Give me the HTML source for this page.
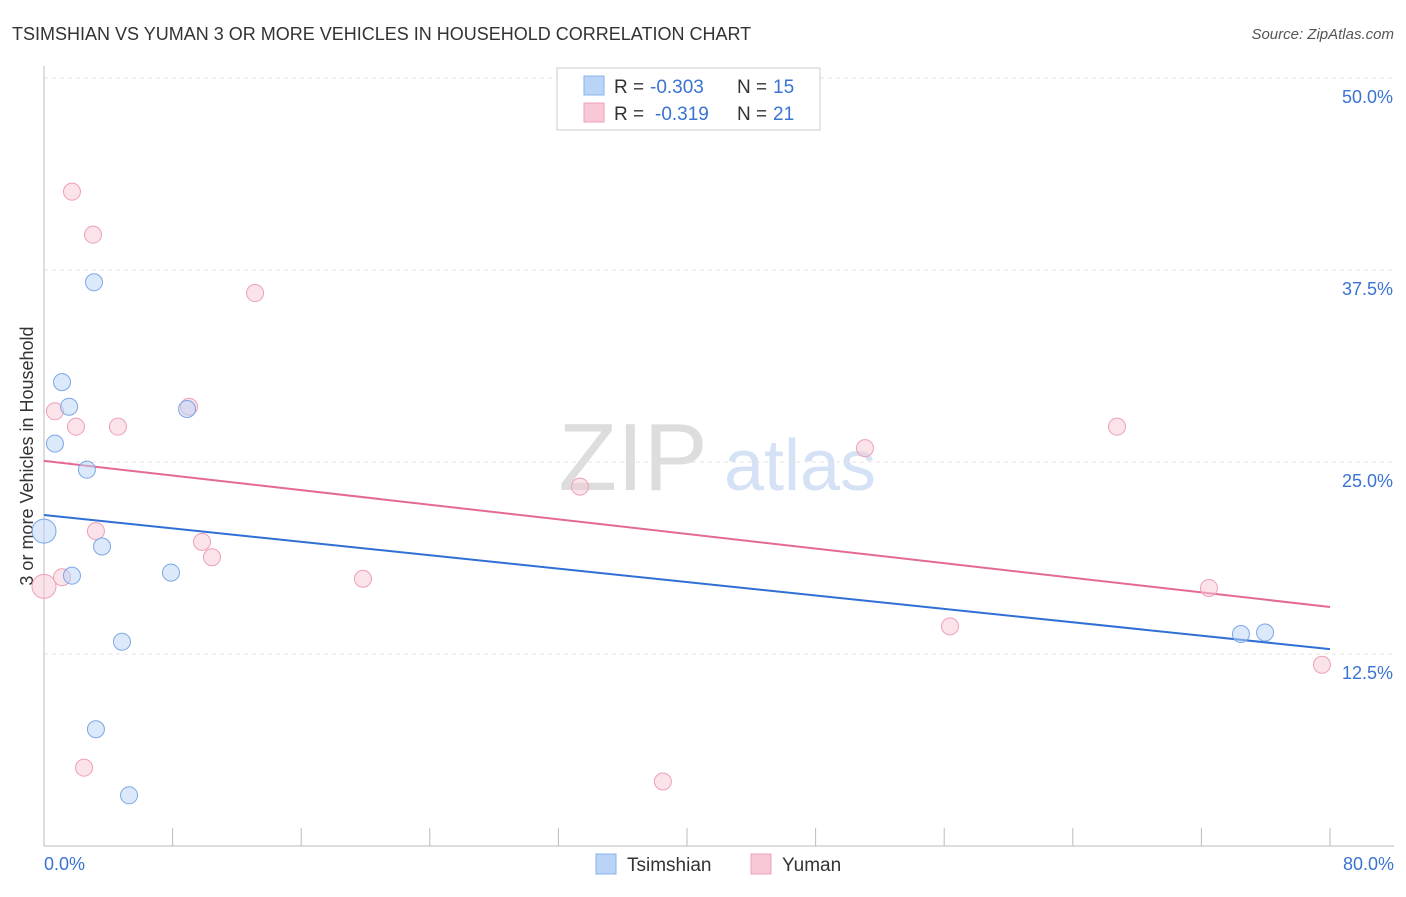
<!DOCTYPE html>
<html><head><meta charset="utf-8"><style>
body{margin:0;background:#fff;font-family:"Liberation Sans",sans-serif}
svg text{font-family:"Liberation Sans",sans-serif}
</style></head><body>
<svg id="c" width="1406" height="892">
<text x="12" y="40" font-size="18" fill="#333">TSIMSHIAN VS YUMAN 3 OR MORE VEHICLES IN HOUSEHOLD CORRELATION CHART</text>
<text x="1394" y="39" font-size="15" fill="#555" text-anchor="end" font-style="italic">Source: ZipAtlas.com</text>
<text x="633" y="490" font-size="96" fill="#ddd" font-family="Liberation Serif" text-anchor="middle">ZIP</text>
<text x="800" y="490" font-size="72" fill="#d5e2f5" text-anchor="middle">atlas</text>
<text transform="translate(33,456) rotate(-90)" font-size="18" fill="#333" text-anchor="middle">3 or more Vehicles in Household</text>
<g id="grid"></g><g id="axes"></g><g id="trend"></g><g id="pts"></g>
<g>
<rect x="557" y="68" width="263" height="62" fill="#fff" stroke="#ccc"/>
<rect x="584" y="76" width="20" height="19" fill="#b9d4f6" stroke="#8ab3e8"/>
<text x="614" y="93" font-size="19" fill="#333">R =</text>
<text x="650" y="93" font-size="19" fill="#3a73d1">-0.303</text>
<text x="737" y="93" font-size="19" fill="#333">N =</text>
<text x="773" y="93" font-size="19" fill="#3a73d1">15</text>
<rect x="584" y="103" width="20" height="19" fill="#f8c8d6" stroke="#eea0b8"/>
<text x="614" y="120" font-size="19" fill="#333">R =</text>
<text x="655" y="120" font-size="19" fill="#3a73d1">-0.319</text>
<text x="737" y="120" font-size="19" fill="#333">N =</text>
<text x="773" y="120" font-size="19" fill="#3a73d1">21</text>
</g>
<g>
<rect x="596" y="854" width="20" height="20" fill="#b9d4f6" stroke="#8ab3e8"/>
<text x="627" y="871" font-size="19" fill="#333">Tsimshian</text>
<rect x="751" y="854" width="20" height="20" fill="#f8c8d6" stroke="#eea0b8"/>
<text x="782" y="871" font-size="19" fill="#333">Yuman</text>
</g>
</svg>
<script>
const yTicks=[12.5,25,37.5,50];
const xTickLabels=["0.0%","80.0%"];
const tsX=[0,1.12,1.56,0.68,2.67,1.74,3.61,3.11,8.9,7.9,4.85,3.23,5.29,74.46,75.96];
const tsY=[20.5,30.2,28.6,26.2,24.5,17.6,19.5,36.7,28.45,17.8,13.3,7.6,3.3,13.8,13.9];
const yuX=[0,1.74,3.05,13.13,0.68,1.99,4.6,9.02,1.12,3.23,9.83,10.45,19.84,33.34,51.07,66.75,72.47,56.36,79.5,2.49,38.5];
const yuY=[16.9,42.6,39.8,36.0,28.3,27.3,27.3,28.6,17.5,20.5,19.8,18.8,17.4,23.4,25.9,27.3,16.8,14.3,11.8,5.1,4.2];
const tsTrend=[21.55,12.82];
const yuTrend=[25.07,15.56];
const X=v=>44+v/80*1286, Y=v=>846-v/12.5*192;
const NS="http://www.w3.org/2000/svg";
function mk(p,t,a){const e=document.createElementNS(NS,t);for(const k in a)e.setAttribute(k,a[k]);document.getElementById(p).appendChild(e);return e;}
yTicks.forEach(t=>{
 const l=mk('grid','line',{x1:44,x2:1394,y1:Y(t),y2:Y(t),stroke:'#e3e3e3','stroke-dasharray':'4,4'});
 
 
 const tx=mk('grid','text',{x:1393,y:Y(t)+25,'font-size':18,fill:'#3a73d1','text-anchor':'end'});
 tx.textContent=t.toFixed(1)+'%';
 
 
});
const ax=mk('axes','line',{x1:44,x2:1394,y1:846,y2:846,stroke:'#bbb'});


const ay=mk('axes','line',{x1:44,x2:44,y1:66,y2:846,stroke:'#bbb'});


for(let i=1;i<=10;i++){const t=mk('axes','line',{x1:X(i*8),x2:X(i*8),y1:828,y2:846,stroke:'#bbb'});
 
 }
[[0,44,'start'],[80,1394,'end']].forEach((d,i)=>{const t=mk('axes','text',{x:d[1],y:870,'font-size':18,fill:'#3a73d1','text-anchor':d[2]});
 t.textContent=xTickLabels[i];
 
 });
[[tsTrend,'#2f6fd6','tsimshian-trendline'],[yuTrend,'#e46a93','yuman-trendline']].forEach(d=>{
 const l=mk('trend','line',{x1:X(0),y1:Y(d[0][0]),x2:X(80),y2:Y(d[0][1]),stroke:d[1],'stroke-width':2});
 
 });
function pts(xs,ys,f,s,n){xs.forEach((x,i)=>{const r=(x===0)?12:8.5;
 const c=mk('pts','circle',{cx:X(x),cy:Y(ys[i]),r:r,fill:f,'fill-opacity':0.5,stroke:s,'stroke-width':1});
 
 });}
pts(yuX,yuY,'#f8c8d6','#eea0b8','yuman-point');
pts(tsX,tsY,'#b9d4f6','#7aa7e6','tsimshian-point');
</script>
</body></html>
